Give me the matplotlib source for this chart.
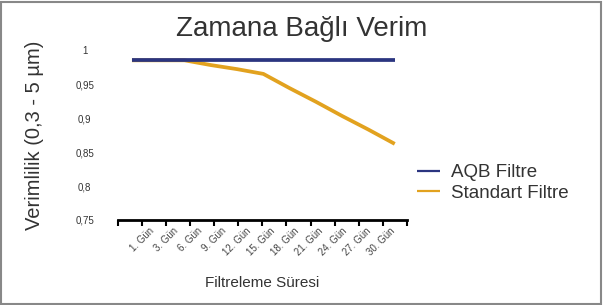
import matplotlib
matplotlib.use("Agg")
import matplotlib.pyplot as plt
import matplotlib.transforms as mtransforms
import numpy as np
from matplotlib.patches import Rectangle

plt.rcParams['font.family'] = ['Liberation Sans', 'DejaVu Sans']

# Veriler
gunler = ["1. Gün", "3. Gün", "6. Gün", "9. Gün", "12. Gün", "15. Gün",
          "18. Gün", "21. Gün", "24. Gün", "27. Gün", "30. Gün"]
aqb = [0.985] * 11
standart = [0.985, 0.985, 0.985, 0.978, 0.972, 0.965, 0.944, 0.924, 0.903, 0.883, 0.862]
y_ticks = [0.75, 0.8, 0.85, 0.9, 0.95, 1.0]
y_labels = ["0,75", "0,8", "0,85", "0,9", "0,95", "1"]

dar = ['Liberation Sans Narrow', 'Liberation Sans']

fig = plt.figure(figsize=(6.03, 3.05), dpi=100)
ax = fig.add_axes([0.1957, 0.2787, 0.479, 0.557])

x = np.arange(len(gunler))
ax.plot(x, aqb, color='#2B3580', lw=2.7, label='AQB Filtre', solid_capstyle='butt', zorder=3)
ax.plot(x, standart, color='#E2A21F', lw=2.7, label='Standart Filtre', solid_capstyle='butt', zorder=2)

ax.set_xlim(-0.53, 10.46)
ax.set_ylim(0.75, 1.0)

# y ekseni
ax.set_yticks(y_ticks)
ax.set_yticklabels(y_labels, fontsize=7, color='#333333', family=dar)
ax.tick_params(axis='y', length=0, pad=24)
for lbl in ax.get_yticklabels():
    lbl.set_horizontalalignment('center')

# x ekseni: 13 tik işareti, etiketler tiklerin hemen sağında
tikler = np.linspace(-0.53, 10.46, 13)
ax.xaxis.remove_overlapping_locs = False
ax.set_xticks(tikler, minor=True)
ax.set_xticks(tikler[1:12])
ax.set_xticklabels(gunler, rotation=45, ha='right', rotation_mode='anchor',
                   fontsize=7, color='#444444', family=dar)
ax.tick_params(axis='x', which='major', length=0, pad=4)
ax.tick_params(axis='x', which='minor', length=4, width=1.5, color='black', direction='out')
kaydir = mtransforms.ScaledTranslation(7 / 100, 0, fig.dpi_scale_trans)
for lbl in ax.get_xticklabels():
    lbl.set_transform(lbl.get_transform() + kaydir)

for s in ['top', 'right', 'left']:
    ax.spines[s].set_visible(False)
ax.spines['bottom'].set_linewidth(2)

ax.set_xlabel("Filtreleme Süresi", fontsize=11, color='#333333', labelpad=14)
fig.text(0.057, 0.555, "Verimlilik (0,3 - 5 µm)", rotation=90, fontsize=14.5,
         color='#333333', ha='center', va='center')
fig.text(0.50, 0.905, "Zamana Bağlı Verim", fontsize=20, color='#333333',
         ha='center', va='center')

leg = ax.legend(loc='upper left', bbox_to_anchor=(417 / 603, 1 - 164 / 305),
                bbox_transform=fig.transFigure, frameon=False, borderpad=0,
                borderaxespad=0, fontsize=13.5, handlelength=1.2,
                handletextpad=0.6, labelspacing=0.2, labelcolor='#333333')
for ln in leg.get_lines():
    ln.set_linewidth(1.6)

# çerçeve
fig.patches.append(Rectangle((0.002, 0.004), 0.994, 0.99, transform=fig.transFigure,
                             fill=False, edgecolor='#888888', lw=1.5))

fig.savefig("out.png", dpi=100)
